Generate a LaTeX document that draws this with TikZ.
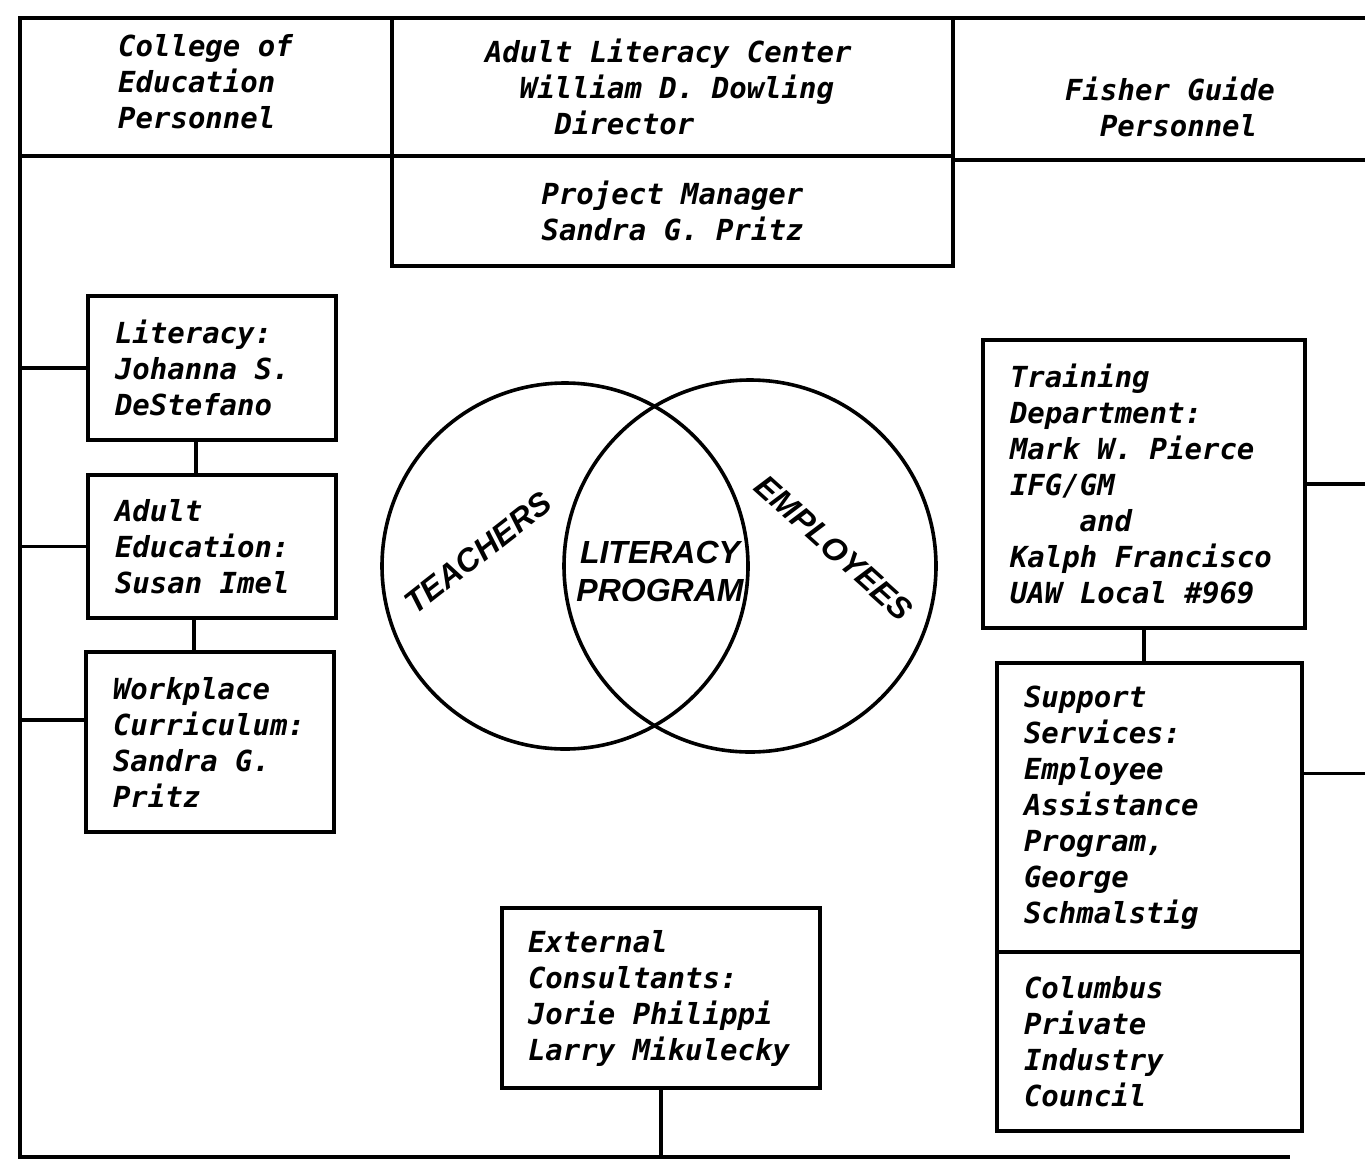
\documentclass[tikz,border=0pt]{standalone}
\usepackage{fontspec}
\newfontfamily\typewr{DejaVu Sans Mono}
\newfontfamily\vennfont{Liberation Sans}
\newcommand{\orgfont}{\typewr\bfseries\itshape\fontsize{29}{36}\selectfont}
\newcommand{\monospaces}{\spaceskip 0.602em\relax\xspaceskip 0.602em\relax}

\tikzset{
	frameline/.style={line width=3.5pt},
	orgbox/.style={draw, line width=3.5pt, anchor=north west, outer sep=0pt, inner xsep=27pt, inner ysep=0pt, align=left, font=\orgfont, execute at begin node=\monospaces},
	headtxt/.style={inner sep=0pt, align=left, font=\orgfont},
	venn/.style={circle, draw, line width=3.6pt, inner sep=0pt},
	vennlbl/.style={inner sep=0pt, align=center, font=\vennfont\bfseries\itshape\fontsize{32}{38}\selectfont}
}

\begin{document}
\begin{tikzpicture}[x=1pt,y=-1pt]
	\useasboundingbox (0,0) rectangle (1365,1167);

	\begin{scope} % frame
		\coordinate (nw) at (20,18);
		\coordinate (ne) at (1365,18);
		\coordinate (sw) at (20,1157);
		\coordinate (se) at (1290,1157);
		\draw[frameline] (ne) -- (nw) -- (sw) -- (se);
	\end{scope}

	\begin{scope} % head row
		\node[orgbox, minimum width=561pt, minimum height=138pt, text width=375pt, inner xsep=93pt] (alc) at (392,18)
			{Adult Literacy Center\\\hspace*{1.2em}William D. Dowling\\\hspace*{2.4em}Director};
		\node[orgbox, minimum width=561pt, minimum height=110pt, text width=507pt, align=center] (pm) at (alc.south west)
			{Project Manager\\Sandra G. Pritz};
		\node[headtxt, anchor=west] (coe) at (118,82) {College of\\Education\\Personnel};
		\node[headtxt, anchor=west] (fgp) at (1065,107) {Fisher Guide\\\hspace*{1.2em}Personnel};
		\draw[frameline] (alc.south west) -- (alc.south west -| nw);
		\draw[frameline] ([yshift=-4]alc.south east) -- ([yshift=-4]alc.south east -| ne);
	\end{scope}

	\begin{scope} % college side
		\node[orgbox, minimum width=248pt, minimum height=144pt, text width=194pt] (lit) at (88,296)
			{Literacy:\\Johanna S.\\DeStefano};
		\node[orgbox, minimum width=248pt, minimum height=143pt, text width=194pt] (ade) at (88,475)
			{Adult\\Education:\\Susan Imel};
		\node[orgbox, minimum width=248pt, minimum height=180pt, text width=194pt] (wpc) at (86,652)
			{Workplace\\Curriculum:\\Sandra G.\\Pritz};
	\end{scope}

	\begin{scope} % fisher side
		\node[orgbox, minimum width=322pt, minimum height=288pt, text width=268pt] (trn) at (983,340)
			{Training\\Department:\\Mark W. Pierce\\IFG/GM\\\hspace*{2.4em}and\\Kalph Francisco\\UAW Local \#969};
		\node[orgbox, minimum width=305pt, minimum height=289pt, text width=251pt] (sup) at (997,663)
			{Support\\Services:\\Employee\\Assistance\\Program,\\George\\Schmalstig};
		\node[orgbox, minimum width=305pt, minimum height=179pt, text width=251pt] (cpi) at (sup.south west)
			{Columbus\\Private\\Industry\\Council};
	\end{scope}

	\node[orgbox, minimum width=318pt, minimum height=180pt, text width=266pt, inner xsep=26pt] (ext) at (502,908)
		{External\\Consultants:\\Jorie Philippi\\Larry Mikulecky};

	\begin{scope}[frameline] % links
		\foreach \b/\dy in {lit/0,ade/0,wpc/22}
			\draw ([yshift=\dy]\b.west) -- ([yshift=\dy]\b.west -| nw);
		\foreach \b/\dy in {trn/0,sup/34}
			\draw ([yshift=\dy]\b.east) -- ([yshift=\dy]\b.east -| ne);
		\draw ([xshift=-16]lit.south) -- ([xshift=-16]lit.south |- ade.north);
		\draw ([xshift=-18]ade.south) -- ([xshift=-18]ade.south |- wpc.north);
		\draw (trn.south) -- (trn.south |- sup.north);
		\draw (ext.south) -- (ext.south |- sw);
	\end{scope}

	\begin{scope} % venn
		\node[venn, minimum size=366pt] (teach) at (565,566) {};
		\node[venn, minimum size=372pt] (empl) at (750,566) {};
		\node[vennlbl, rotate=38] (teachlbl) at (478,553) {TEACHERS};
		\node[vennlbl, rotate=-42] (empllbl) at (834,548) {EMPLOYEES};
		\node[vennlbl] (litlbl) at (660,571) {LITERACY\\PROGRAM};
	\end{scope}
\end{tikzpicture}
\end{document}
